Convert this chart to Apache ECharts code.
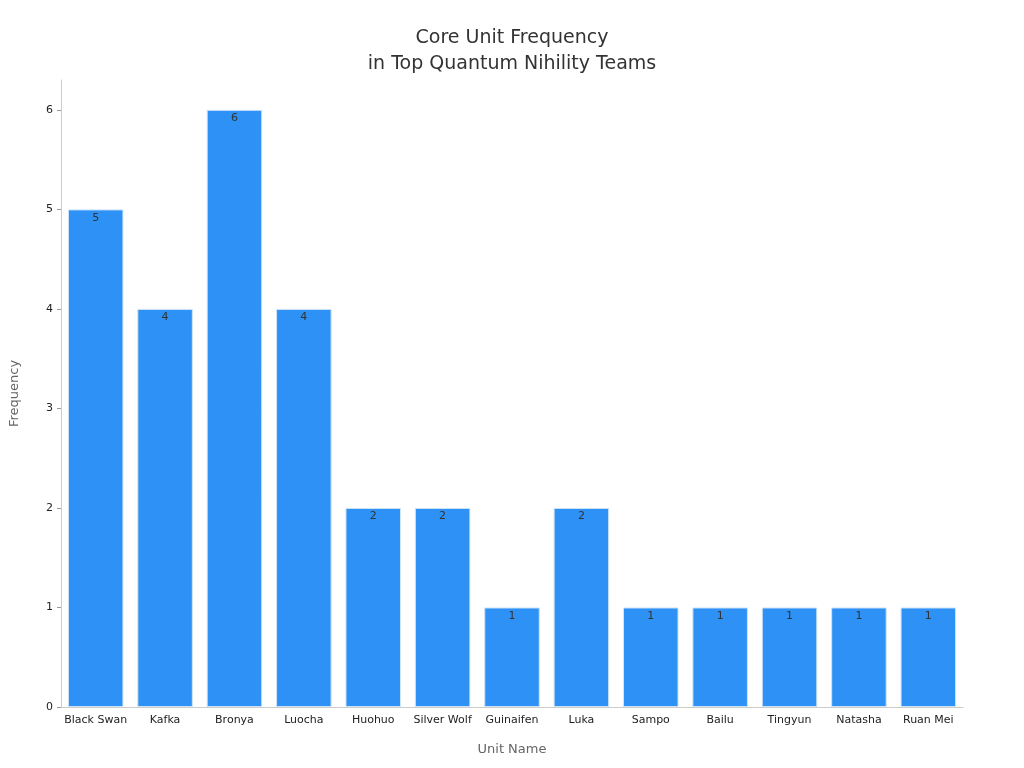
<!DOCTYPE html>
<html><head><meta charset="utf-8">
<script src="https://cdn.jsdelivr.net/npm/echarts@6/dist/echarts.min.js"></script>
<style>html,body{margin:0;padding:0;background:#fff}#c{width:1024px;height:768px}</style>
</head><body><div id="c"></div>
<script>
const categories = ["Black Swan","Kafka","Bronya","Luocha","Huohuo","Silver Wolf","Guinaifen","Luka","Sampo","Bailu","Tingyun","Natasha","Ruan Mei"];
const frequency = [5,4,6,4,2,2,1,2,1,1,1,1,1];
const chart = echarts.init(document.getElementById('c'));
chart.setOption({
  textStyle:{fontFamily:'DejaVu Sans'},
  title:{text:'Core Unit Frequency\nin Top Quantum Nihility Teams',left:'center',top:20,
    textStyle:{fontSize:19,fontWeight:'normal',color:'#333',lineHeight:26,fontFamily:'DejaVu Sans'}},
  grid:{left:60,right:61,top:80,bottom:61},
  xAxis:{type:'category',data:categories,name:'Unit Name',nameLocation:'middle',nameGap:36,
    nameTextStyle:{color:'#666',fontSize:13},
    axisLine:{lineStyle:{color:'#ccc'}},axisTick:{show:false},
    axisLabel:{color:'#222',fontSize:11,interval:0}},
  yAxis:{type:'value',min:0,max:6.3,interval:1,name:'Frequency',nameLocation:'middle',nameGap:40,
    nameTextStyle:{color:'#666',fontSize:13},
    axisLine:{show:true,lineStyle:{color:'#ccc'}},axisTick:{show:true,length:4,lineStyle:{color:'#999'}},
    axisLabel:{color:'#222',fontSize:11,showMaxLabel:false},splitLine:{show:false}},
  series:[{type:'bar',data:frequency,barCategoryGap:'20%',
    itemStyle:{color:'#2E91F5',borderColor:'#cfe3f7',borderWidth:1},
    label:{show:true,position:'insideTop',color:'#333',fontSize:11,offset:[0,-2]}}]
});
</script></body></html>
